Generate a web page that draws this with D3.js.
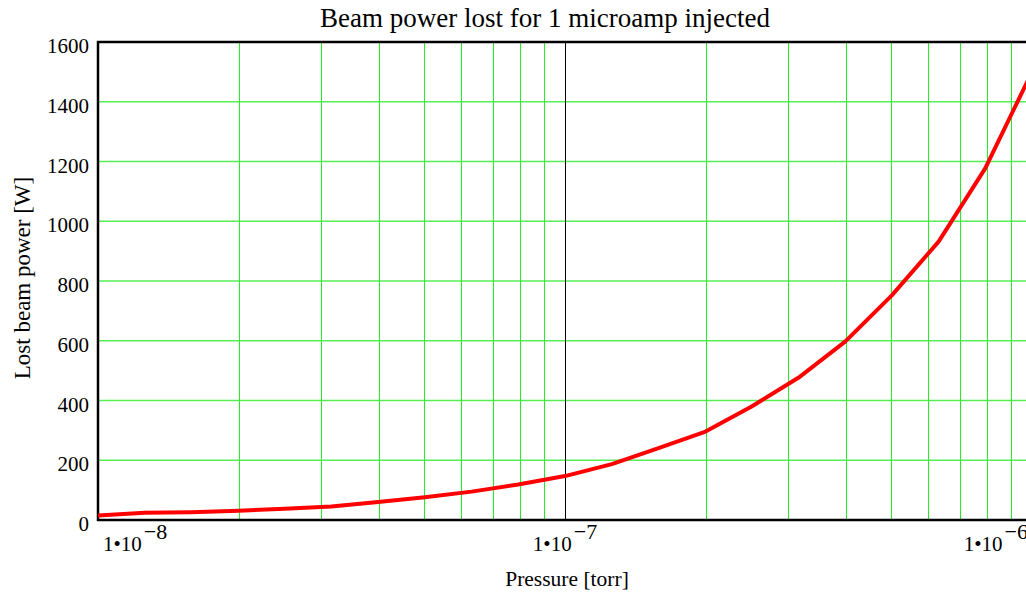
<!DOCTYPE html>
<meta charset="utf-8">
<script src="https://d3js.org/d3.v7.min.js"></script>
<style>
    body { margin: 0; background: #fff; }
    text { font-family: "Liberation Serif", "Times New Roman", serif; fill: #000; }
</style>
<div id="vis"></div>
<script>
    // data: pressure [torr] and lost power [W]
    var pressures = [1e-8, 1.26e-8, 1.58e-8, 2e-8, 2.51e-8, 3.16e-8, 3.98e-8, 5.01e-8, 6.31e-8, 7.94e-8,
        1e-7, 1.26e-7, 1.58e-7, 2e-7, 2.51e-7, 3.16e-7, 3.98e-7, 5.01e-7, 6.31e-7, 7.94e-7, 1e-6];
    var powers = [15, 24, 26, 31, 38, 45, 60, 76, 95, 119,
        147, 187, 240, 296, 380, 476, 597, 752, 932, 1177, 1500];
    var yTicks = [0, 200, 400, 600, 800, 1000, 1200, 1400, 1600];
    var xMinor = [2e-8, 3e-8, 4e-8, 5e-8, 6e-8, 7e-8, 8e-8, 9e-8,
        2e-7, 3e-7, 4e-7, 5e-7, 6e-7, 7e-7, 8e-7, 9e-7];
    var xMajor = [1e-8, 1e-7, 1e-6];
    var xExp = ["\u22128", "\u22127", "\u22126"];

    var W = 1026, H = 592;
    var mgn = { top: 42, lft: 98, btm: 72 };

    var svg = d3.select("#vis").append("svg")
        .attr("width", W).attr("height", H);

    var x = d3.scaleLog().domain([1e-8, 1e-6]).range([mgn.lft, 1032]);
    var y = d3.scaleLinear().domain([0, 1600]).range([H - mgn.btm, mgn.top]);

    // grid
    svg.append("g").selectAll("line").data(yTicks.slice(1, -1)).enter()
        .append("line")
        .attr("x1", mgn.lft).attr("x2", 1032)
        .attr("y1", function (d) { return y(d); }).attr("y2", function (d) { return y(d); })
        .attr("stroke", "#55ee55").attr("stroke-width", 1.5);
    svg.append("g").selectAll("line").data(xMinor).enter()
        .append("line")
        .attr("x1", function (d) { return Math.round(x(d)) + 0.5; })
        .attr("x2", function (d) { return Math.round(x(d)) + 0.5; })
        .attr("y1", y(1600)).attr("y2", y(0))
        .attr("stroke", "#22ee22").attr("stroke-width", 1);
    // marker at 1e-7
    svg.append("line")
        .attr("x1", Math.round(x(1e-7)) + 0.5).attr("x2", Math.round(x(1e-7)) + 0.5)
        .attr("y1", y(1600)).attr("y2", y(0))
        .attr("stroke", "#000").attr("stroke-width", 1);

    // frame
    svg.append("path")
        .attr("d", "M1040," + y(1600) + "H" + mgn.lft + "V" + y(0) + "H1040")
        .attr("fill", "none").attr("stroke", "#000").attr("stroke-width", 2.5);

    // curve
    var line = d3.line()
        .x(function (d, i) { return x(pressures[i]); })
        .y(function (d) { return y(d); });
    svg.append("path")
        .datum(powers)
        .attr("d", line)
        .attr("fill", "none").attr("stroke", "#ff0000").attr("stroke-width", 4)
        .attr("stroke-linejoin", "round");

    // y tick labels
    svg.append("g").selectAll("text").data(yTicks).enter()
        .append("text")
        .attr("x", 89).attr("y", function (d) { return y(d) + 11; })
        .attr("text-anchor", "end").attr("font-size", 21)
        .text(function (d) { return d; });

    // x tick labels: 1•10 with superscript exponent
    xMajor.forEach(function (t, i) {
        var tx = svg.append("text").attr("font-size", 21).attr("y", 551);
        tx.append("tspan").text("1\u202210");
        tx.append("tspan").attr("dy", -12).attr("dx", 2).attr("font-size", 22).text(xExp[i]);
        var w = tx.node().getComputedTextLength() + 2;
        var left = x(t) - w / 2;
        left = Math.max(left, x(1e-8) + 5);
        left = Math.min(left, x(1e-6) - 4 - w);
        tx.attr("x", left);
    });

    // titles
    svg.append("text")
        .attr("x", 545).attr("y", 27)
        .attr("text-anchor", "middle").attr("font-size", 27)
        .text("Beam power lost for 1 microamp injected");
    svg.append("text")
        .attr("x", 567).attr("y", 586)
        .attr("text-anchor", "middle").attr("font-size", 21.5)
        .text("Pressure [torr]");
    svg.append("text")
        .attr("transform", "translate(30," + 278 + ") rotate(-90)")
        .attr("text-anchor", "middle").attr("font-size", 23)
        .text("Lost beam power [W]");
</script>
